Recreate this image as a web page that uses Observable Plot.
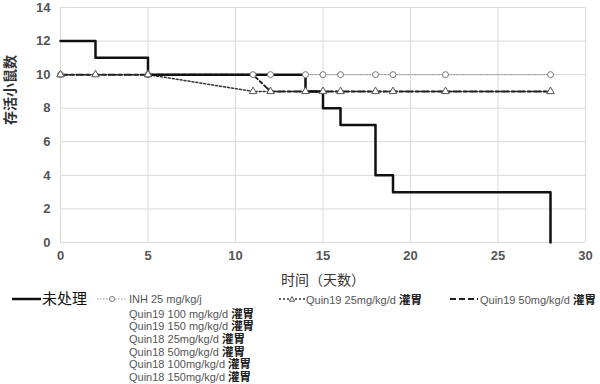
<!DOCTYPE html>
<html><head><meta charset="utf-8">
<script src="https://cdn.jsdelivr.net/npm/d3@7"></script>
<script src="https://cdn.jsdelivr.net/npm/@observablehq/plot@0.6"></script>
<style>
body{margin:0;background:#fff;font-family:"Liberation Sans","Noto Sans CJK SC",sans-serif;}
#wrap{position:relative;width:600px;height:384px;overflow:hidden;}
#chart svg{display:block;}
.lg{position:absolute;white-space:nowrap;color:#555;font-size:11px;line-height:12px;}
.lg .cn{color:#222;font-size:11.5px;font-weight:bold;font-family:"Noto Sans CJK SC",sans-serif;}
.sw{position:absolute;}
</style>
</head><body>
<div id="wrap"><div id="chart"></div></div>
<script>
// ---- data ----
const untreatedDays = [0, 2, 5, 14, 15, 16, 18, 19, 28];
const untreatedMice = [12, 11, 10, 9, 8, 7, 4, 3, 0];
const inhDays = [0, 5, 11, 12, 14, 15, 16, 18, 19, 22, 28];
const inhMice = [10, 10, 10, 10, 10, 10, 10, 10, 10, 10, 10];
const q19_25Days = [0, 2, 5, 11, 12, 14, 15, 16, 18, 19, 22, 28];
const q19_25Mice = [10, 10, 10, 9, 9, 9, 9, 9, 9, 9, 9, 9];
const q19_50Days = [0, 11, 12, 28];
const q19_50Mice = [10, 10, 9, 9];
const xTicks = [0, 5, 10, 15, 20, 25, 30];
const yTicks = [0, 2, 4, 6, 8, 10, 12, 14];
const xLabel = "时间（天数）";
const yLabel = "存活小鼠数";
const seriesNames = ["未处理", "INH 25 mg/kg/j", "Quin19 25mg/kg/d 灌胃", "Quin19 50mg/kg/d 灌胃"];
const sharedNames = ["Quin19 100 mg/kg/d 灌胃", "Quin19 150 mg/kg/d 灌胃", "Quin18 25mg/kg/d 灌胃", "Quin18 50mg/kg/d 灌胃", "Quin18 100mg/kg/d 灌胃", "Quin18 150mg/kg/d 灌胃"];

const pts = (xs, ys) => xs.map((x, i) => ({x, y: ys[i]}));
const untreated = pts(untreatedDays, untreatedMice);
const inh = pts(inhDays, inhMice);
const q25 = pts(q19_25Days, q19_25Mice);
const q50 = pts(q19_50Days, q19_50Mice);

const chart = Plot.plot({
  width: 600, height: 290,
  marginLeft: 60, marginRight: 15, marginTop: 7, marginBottom: 48,
  style: {fontFamily: '"Liberation Sans","Noto Sans CJK SC",sans-serif', fontSize: "13px", color: "#444", background: "#fff"},
  x: {domain: [0, 30], ticks: xTicks, label: null},
  y: {domain: [0, 14], ticks: yTicks, label: null},
  marks: [
    Plot.gridX(xTicks, {stroke: "#dadada", strokeOpacity: 1, strokeWidth: 1}),
    Plot.gridY(yTicks, {stroke: "#dadada", strokeOpacity: 1, strokeWidth: 1}),
    Plot.axisX({ticks: xTicks, tickSize: 0, tickPadding: 8, fontSize: 13, fontWeight: "bold", fill: "#555", label: null}),
    Plot.axisY({ticks: yTicks, tickSize: 0, tickPadding: 10, fontSize: 13, fontWeight: "bold", fill: "#555", label: null}),
    Plot.text([xLabel], {frameAnchor: "bottom", dy: 42, fontSize: 14, fill: "#333"}),
    Plot.text([yLabel], {frameAnchor: "left", dx: -50, rotate: -90, fontSize: 14, fill: "#333", fontWeight: "bold"}),
    Plot.line(inh, {x: "x", y: "y", stroke: "#999", strokeWidth: 1, strokeDasharray: "1.5,1.5"}),
    Plot.line(q25, {x: "x", y: "y", stroke: "#333", strokeWidth: 1.5, strokeDasharray: "2,2"}),
    Plot.line(q50, {x: "x", y: "y", stroke: "#222", strokeWidth: 2, strokeDasharray: "7,3,3,3"}),
    Plot.line(untreated, {x: "x", y: "y", curve: "step-after", stroke: "#111", strokeWidth: 2.5}),
    Plot.dot(inh, {x: "x", y: "y", r: 3, fill: "#fff", stroke: "#777", strokeWidth: 1}),
    Plot.dot(q25, {x: "x", y: "y", symbol: "triangle", r: 2.8, fill: "#fff", stroke: "#555", strokeWidth: 1})
  ]
});
document.getElementById("chart").appendChild(chart);

// ---- legend (HTML below the chart) ----
const wrap = document.getElementById("wrap");
function swatch(left, top, w, dash, color, sw, marker) {
  const s = document.createElementNS("http://www.w3.org/2000/svg", "svg");
  s.setAttribute("width", w); s.setAttribute("height", 10);
  s.setAttribute("class", "sw");
  s.style.left = left + "px"; s.style.top = (top - 5) + "px";
  let h = `<line x1="0" y1="5" x2="${w}" y2="5" stroke="${color}" stroke-width="${sw}" ${dash ? `stroke-dasharray="${dash}"` : ""}/>`;
  if (marker === "circle") h += `<circle cx="${w/2}" cy="5" r="2.5" fill="#fff" stroke="#777"/>`;
  if (marker === "triangle") h += `<path d="M${w/2},2.5 L${w/2+2.7},7.2 L${w/2-2.7},7.2Z" fill="#fff" stroke="#555"/>`;
  s.innerHTML = h;
  wrap.appendChild(s);
}
function label(left, top, txt, size) {
  const d = document.createElement("div");
  d.className = "lg";
  d.style.left = left + "px"; d.style.top = (top - 6) + "px";
  if (size) {
    d.textContent = txt;
    d.style.fontSize = size + "px"; d.style.lineHeight = (size + 3) + "px";
    d.style.top = (top - (size + 3) / 2) + "px"; d.style.color = "#111";
  } else {
    const m = txt.match(/^(.*?)([\u4e00-\u9fff]+)$/);
    if (m) d.innerHTML = `${m[1]}<span class="cn">${m[2]}</span>`; else d.textContent = txt;
  }
  wrap.appendChild(d);
}
swatch(12, 299, 29, null, "#111", 2.5);
label(42, 299, seriesNames[0], 15);
swatch(97, 299, 30, "1.5,1.5", "#999", 1, "circle");
label(129, 299, seriesNames[1]);
sharedNames.forEach((n, i) => label(129, 312.5 + i * 12.7, n));
swatch(279, 299, 26, "2,2", "#333", 1.5, "triangle");
label(306, 299, seriesNames[2]);
swatch(450, 299, 28, "6,3", "#222", 2);
label(480, 299, seriesNames[3]);
</script>
</body></html>
